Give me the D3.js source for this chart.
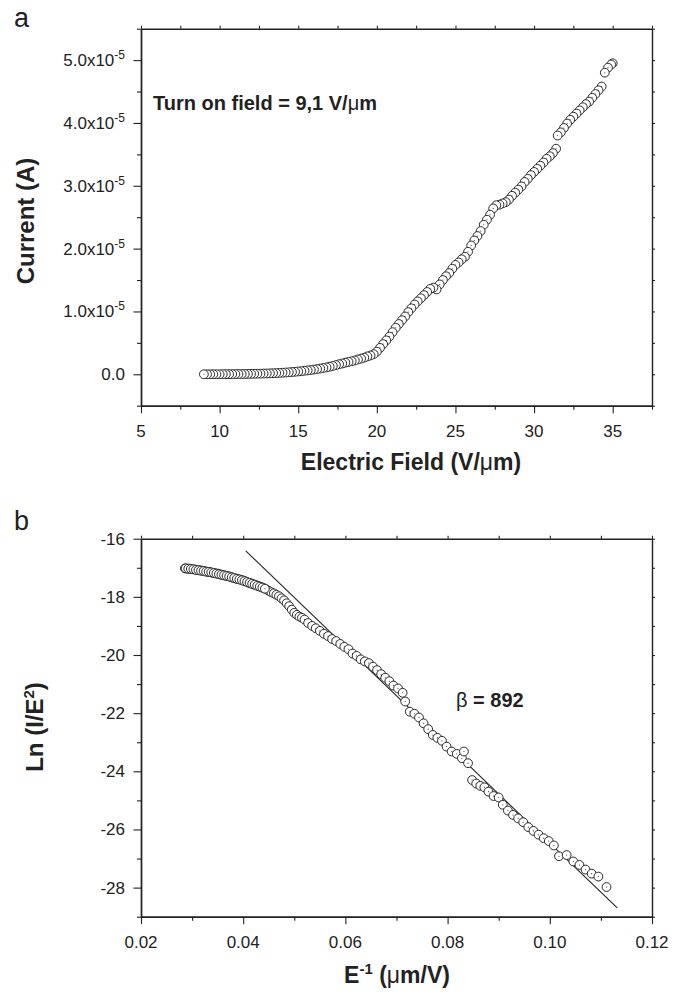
<!DOCTYPE html>
<meta charset="utf-8">
<style>
  body { margin: 0; background: #fff; }
  text { font-family: "Liberation Sans", Arial, sans-serif; fill: #222; }
</style>
<div id="chart"></div>
<script src="https://cdn.jsdelivr.net/npm/d3@7"></script>
<script>

// panel a : current vs field (current in units of 1e-5 A)
var fieldA = [9.0, 9.2, 9.4, 9.6, 9.8, 10.0, 10.2, 10.4, 10.6, 10.8, 11.0, 11.2, 11.4, 11.6, 11.8,
  12.0, 12.2, 12.4, 12.6, 12.8, 13.0, 13.2, 13.4, 13.6, 13.8, 14.0, 14.2, 14.4, 14.6, 14.8,
  15.0, 15.2, 15.4, 15.6, 15.8, 16.0, 16.2, 16.4, 16.6, 16.8, 17.0, 17.2, 17.4, 17.6, 17.8,
  18.0, 18.2, 18.4, 18.6, 18.8, 19.0, 19.2, 19.4, 19.6, 19.8, 20.0, 20.2, 20.4, 20.6, 20.8,
  21.0, 21.2, 21.4, 21.6, 21.8, 22.0, 22.2, 22.4, 22.6, 22.8, 23.0, 23.2, 23.4, 23.6, 23.8,
  24.0, 24.2, 24.4, 24.6, 24.8, 25.0, 25.2, 25.4, 25.6, 25.8, 26.0, 26.2, 26.4, 26.6, 26.8,
  27.0, 27.2, 27.4, 27.6, 27.8, 28.0, 28.2, 28.4, 28.6, 28.8, 29.0, 29.2, 29.4, 29.6, 29.8,
  30.0, 30.2, 30.4, 30.6, 30.8, 31.0, 31.2, 31.4, 31.5, 31.7, 31.9, 32.1, 32.3, 32.5, 32.7,
  32.9, 33.1, 33.3, 33.5, 33.7, 33.9, 34.1, 34.3, 34.5, 34.7, 34.9, 35.0];
var currentA = [0.000, 0.000, 0.000, 0.001, 0.001, 0.001, 0.002, 0.002, 0.002, 0.003, 0.003, 0.004, 0.004, 0.005, 0.006,
  0.007, 0.008, 0.009, 0.010, 0.012, 0.013, 0.015, 0.017, 0.019, 0.022, 0.025, 0.028, 0.032, 0.036, 0.040,
  0.045, 0.050, 0.056, 0.062, 0.068, 0.075, 0.083, 0.091, 0.100, 0.110, 0.121, 0.133, 0.146, 0.160, 0.172,
  0.185, 0.197, 0.208, 0.220, 0.236, 0.250, 0.265, 0.285, 0.300, 0.320, 0.360, 0.420, 0.480, 0.540, 0.600,
  0.670, 0.740, 0.800, 0.860, 0.920, 0.990, 1.050, 1.110, 1.160, 1.210, 1.260, 1.310, 1.360, 1.380, 1.350,
  1.430, 1.500, 1.560, 1.610, 1.680, 1.740, 1.780, 1.830, 1.870, 1.950, 2.050, 2.130, 2.200, 2.280, 2.380,
  2.460, 2.540, 2.640, 2.690, 2.700, 2.720, 2.740, 2.780, 2.840, 2.890, 2.940, 2.990, 3.060, 3.110, 3.170,
  3.220, 3.270, 3.320, 3.370, 3.430, 3.470, 3.520, 3.590, 3.800, 3.850, 3.920, 3.990, 4.050, 4.100, 4.150,
  4.200, 4.250, 4.300, 4.340, 4.400, 4.460, 4.520, 4.580, 4.800, 4.880, 4.930, 4.950];

// panel b : Fowler-Nordheim plot
var invFieldB = [0.0286, 0.0290, 0.0295, 0.0300, 0.0305, 0.0310, 0.0315, 0.0320, 0.0325, 0.0330,
  0.0335, 0.0340, 0.0345, 0.0350, 0.0355, 0.0360, 0.0365, 0.0370, 0.0375, 0.0380,
  0.0385, 0.0390, 0.0395, 0.0400, 0.0405, 0.0410, 0.0415, 0.0420, 0.0425, 0.0430,
  0.0435, 0.0440, 0.0445, 0.0450, 0.0455, 0.0460, 0.0465, 0.0470, 0.0475, 0.0480,
  0.0485, 0.0490, 0.0495, 0.0500, 0.0505, 0.0510, 0.0515, 0.0520, 0.0527, 0.0535,
  0.0542, 0.0550, 0.0558, 0.0566, 0.0574, 0.0582, 0.0590, 0.0598, 0.0606, 0.0614,
  0.0622, 0.0630, 0.0638, 0.0646, 0.0654, 0.0662, 0.0670, 0.0678, 0.0686, 0.0694,
  0.0703, 0.0712, 0.0717, 0.0726, 0.0735, 0.0744, 0.0753, 0.0762, 0.0771, 0.0780,
  0.0789, 0.0798, 0.0808, 0.0818, 0.0828, 0.0832, 0.0840, 0.0848, 0.0856, 0.0864,
  0.0872, 0.0880, 0.0890, 0.0900, 0.0908, 0.0918, 0.0928, 0.0938, 0.0948, 0.0958,
  0.0968, 0.0978, 0.0988, 0.0998, 0.1008, 0.1018, 0.1033, 0.1046, 0.1058, 0.1070,
  0.1082, 0.1095, 0.1111,
  0.02875, 0.02925, 0.02975, 0.03025, 0.03075, 0.03125, 0.03175, 0.03225, 0.03275, 0.03325,
  0.03375, 0.03425, 0.03475, 0.03525, 0.03575, 0.03625, 0.03675, 0.03725, 0.03775, 0.03825,
  0.03875, 0.03925, 0.03975, 0.04025, 0.04075, 0.04125, 0.04175, 0.04225, 0.04275, 0.04325,
  0.04375, 0.04425];
var lnB = [-17.02, -17.03, -17.03, -17.05, -17.06, -17.08, -17.09, -17.10, -17.12, -17.14,
  -17.15, -17.17, -17.19, -17.20, -17.23, -17.25, -17.27, -17.29, -17.31, -17.34,
  -17.37, -17.39, -17.41, -17.44, -17.47, -17.51, -17.54, -17.57, -17.60, -17.63,
  -17.66, -17.70, -17.74, -17.79, -17.84, -17.88, -17.93, -17.98, -18.05, -18.12,
  -18.22, -18.32, -18.44, -18.55, -18.62, -18.68, -18.72, -18.78, -18.90, -19.00,
  -19.08, -19.17, -19.27, -19.35, -19.45, -19.52, -19.62, -19.72, -19.80, -19.95,
  -20.03, -20.15, -20.22, -20.28, -20.40, -20.52, -20.66, -20.78, -20.90, -21.05,
  -21.15, -21.30, -21.60, -21.95, -22.02, -22.15, -22.35, -22.55, -22.75, -22.85,
  -22.95, -23.15, -23.32, -23.40, -23.55, -23.32, -23.72, -24.30, -24.42, -24.50,
  -24.55, -24.70, -24.85, -24.90, -25.15, -25.35, -25.50, -25.62, -25.75, -25.92,
  -26.05, -26.18, -26.30, -26.40, -26.55, -26.92, -26.88, -27.10, -27.22, -27.38,
  -27.52, -27.62, -27.98,
  -17.02, -17.03, -17.04, -17.05, -17.07, -17.08, -17.10, -17.11, -17.13, -17.14,
  -17.16, -17.18, -17.20, -17.22, -17.24, -17.26, -17.28, -17.30, -17.33, -17.35,
  -17.38, -17.40, -17.43, -17.46, -17.49, -17.52, -17.55, -17.58, -17.62, -17.65,
  -17.68, -17.72];
var fitX = [0.0405, 0.1132];
var fitY = [-16.42, -28.70];

var width = 685, height = 992;

var svg = d3.select("#chart")
  .append("svg")
    .attr("width", width)
    .attr("height", height);

var ink = "#222";

function frame(x, y, xMajor, xMinor, yMajor, yMinor) {
  var L = x.range()[0], R = x.range()[1], T = y.range()[1], B = y.range()[0];
  var allX = xMajor.concat(xMinor), allY = yMajor.concat(yMinor);

  var axes = [
    [d3.axisBottom(x).tickValues(xMajor).tickSize(7.5), "translate(0," + B + ")"],
    [d3.axisBottom(x).tickValues(xMinor).tickSize(4), "translate(0," + B + ")"],
    [d3.axisLeft(y).tickValues(yMajor).tickSize(7.5), "translate(" + L + ",0)"],
    [d3.axisLeft(y).tickValues(yMinor).tickSize(4), "translate(" + L + ",0)"],
    [d3.axisTop(x).tickValues(allX).tickSize(3), "translate(0," + T + ")"],
    [d3.axisRight(y).tickValues(allY).tickSize(3), "translate(" + R + ",0)"]
  ];
  axes.forEach(function(a) {
    var g = svg.append("g")
      .attr("transform", a[1])
      .call(a[0].tickFormat("").tickSizeOuter(0));
    g.select(".domain").attr("stroke", ink).attr("stroke-width", 1.4);
    g.selectAll(".tick line").attr("stroke", ink).attr("stroke-width", 1.1);
  });
}

function markers(x, y, xs, ys) {
  var pts = xs.map(function(d, i) { return [d, ys[i]]; });
  var g = svg.append("g");
  var pt = g.selectAll("g")
    .data(pts)
    .enter().append("g")
      .attr("transform", function(d) { return "translate(" + x(d[0]) + "," + y(d[1]) + ")"; });
  pt.append("circle")
    .attr("r", 4.4)
    .attr("fill", "#fff")
    .attr("stroke", "#2a2a2a")
    .attr("stroke-width", 1);
  pt.append("circle")
    .attr("r", 0.55)
    .attr("fill", "#333");
}

// ---------- panel a ----------
var xA = d3.scaleLinear().domain([5, 37.5]).range([141, 652]);
var yA = d3.scaleLinear().domain([-0.5, 5.5]).range([405.7, 28.7]);

frame(xA, yA, [5, 10, 15, 20, 25, 30, 35], [7.5, 12.5, 17.5, 22.5, 27.5, 32.5, 37.5],
      [0, 1, 2, 3, 4, 5], [-0.5, 0.5, 1.5, 2.5, 3.5, 4.5, 5.5]);

svg.append("g").selectAll("text")
  .data([5, 10, 15, 20, 25, 30, 35])
  .enter().append("text")
    .attr("x", function(d) { return xA(d); })
    .attr("y", 437)
    .attr("text-anchor", "middle")
    .attr("font-size", 17)
    .text(function(d) { return d; });

var yLabA = svg.append("g").selectAll("text")
  .data([0, 1, 2, 3, 4, 5])
  .enter().append("text")
    .attr("x", 125)
    .attr("y", function(d) { return yA(d) + 6; })
    .attr("text-anchor", "end")
    .attr("font-size", 17);
yLabA.each(function(d) {
  var t = d3.select(this);
  if (d === 0) { t.text("0.0"); return; }
  t.append("tspan").text(d.toFixed(1) + "x10");
  t.append("tspan").attr("font-size", 12).attr("dy", -7).text("-5");
});

markers(xA, yA, fieldA.slice().reverse(), currentA.slice().reverse());

var tA = svg.append("text")
  .attr("x", 153).attr("y", 110)
  .attr("font-size", 20).attr("font-weight", "bold");
tA.append("tspan").text("Turn on field = 9,1 V/");
tA.append("tspan").attr("font-weight", "normal").text("\u03bc");
tA.append("tspan").text("m");

var xtA = svg.append("text")
  .attr("x", 411).attr("y", 470)
  .attr("text-anchor", "middle")
  .attr("font-size", 23).attr("font-weight", "bold");
xtA.append("tspan").text("Electric Field (V/");
xtA.append("tspan").attr("font-weight", "normal").text("\u03bc");
xtA.append("tspan").text("m)");

svg.append("text")
  .attr("transform", "translate(34,221) rotate(-90)")
  .attr("text-anchor", "middle")
  .attr("font-size", 24).attr("font-weight", "bold")
  .text("Current (A)");

svg.append("text").attr("x", 14).attr("y", 27).attr("font-size", 27).text("a");

// ---------- panel b ----------
var xB = d3.scaleLinear().domain([0.02, 0.12]).range([141, 652]);
var yB = d3.scaleLinear().domain([-29, -16]).range([916.7, 538.7]);

frame(xB, yB, [0.02, 0.04, 0.06, 0.08, 0.10, 0.12], [0.03, 0.05, 0.07, 0.09, 0.11],
      [-28, -26, -24, -22, -20, -18, -16], [-29, -27, -25, -23, -21, -19, -17]);

svg.append("g").selectAll("text")
  .data([0.02, 0.04, 0.06, 0.08, 0.10, 0.12])
  .enter().append("text")
    .attr("x", function(d) { return xB(d); })
    .attr("y", 948)
    .attr("text-anchor", "middle")
    .attr("font-size", 17)
    .text(d3.format(".2f"));

svg.append("g").selectAll("text")
  .data([-28, -26, -24, -22, -20, -18, -16])
  .enter().append("text")
    .attr("x", 125)
    .attr("y", function(d) { return yB(d) + 6; })
    .attr("text-anchor", "end")
    .attr("font-size", 17)
    .text(function(d) { return d; });

svg.append("line")
  .attr("x1", xB(fitX[0])).attr("y1", yB(fitY[0]))
  .attr("x2", xB(fitX[1])).attr("y2", yB(fitY[1]))
  .attr("stroke", ink).attr("stroke-width", 1.1);

markers(xB, yB, invFieldB, lnB);

var tB = svg.append("text")
  .attr("x", 456).attr("y", 707)
  .attr("font-size", 20).attr("font-weight", "bold");
tB.append("tspan").attr("font-weight", "normal").text("\u03b2");
tB.append("tspan").text(" = 892");

var xtB = svg.append("text")
  .attr("x", 397).attr("y", 983)
  .attr("text-anchor", "middle")
  .attr("font-size", 23).attr("font-weight", "bold");
xtB.append("tspan").text("E");
xtB.append("tspan").attr("font-size", 15).attr("dy", -9).text("-1");
xtB.append("tspan").attr("dy", 9).text(" (");
xtB.append("tspan").attr("font-weight", "normal").text("\u03bc");
xtB.append("tspan").text("m/V)");

var ytB = svg.append("text")
  .attr("transform", "translate(43,727) rotate(-90)")
  .attr("text-anchor", "middle")
  .attr("font-size", 24).attr("font-weight", "bold");
ytB.append("tspan").text("Ln (I/E");
ytB.append("tspan").attr("font-size", 15).attr("dy", -9).text("2");
ytB.append("tspan").attr("dy", 9).text(")");

svg.append("text").attr("x", 14).attr("y", 530).attr("font-size", 27).text("b");

</script>
